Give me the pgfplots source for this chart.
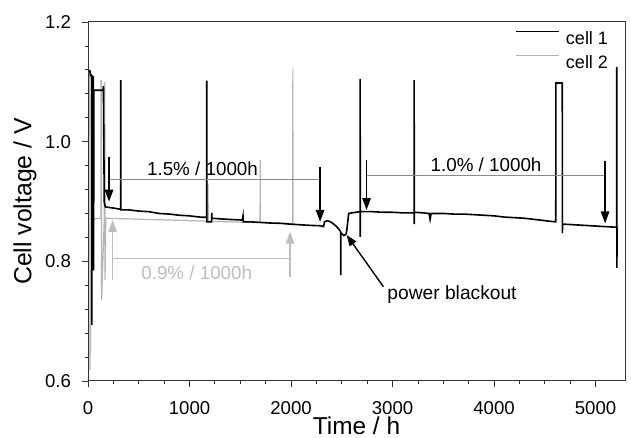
\documentclass[border=0pt]{standalone}
\usepackage{fontspec}
\setmainfont{Liberation Sans}
\usepackage{pgfplots}
\pgfplotsset{compat=1.18}
\usetikzlibrary{arrows.meta}

\definecolor{celltwo}{HTML}{B4B4B4}
\definecolor{refline}{HTML}{8A8A8A}
\definecolor{lightarr}{HTML}{BDBDBD}

\begin{document}
\begin{tikzpicture}
\begin{axis}[
    name=ax,
    scale only axis,
    width=268.5pt, height=179.5pt,
    xmin=0, xmax=5290,
    ymin=0.6, ymax=1.2,
    xtick={0,1000,2000,3000,4000,5000},
    ytick={0.6,0.8,1.0,1.2},
    yticklabels={0.6,0.8,1.0,1.2},
    minor x tick num=3,
    minor y tick num=4,
    tick align=outside,
    xtick pos=bottom, ytick pos=left,
    major tick length=2.8pt, minor tick length=1.6pt,
    axis line style={black!80, line width=0.5pt},
    every tick/.style={black!80, line width=0.4pt},
    /pgf/number format/assume math mode=true,
    scaled ticks=false,
    xticklabel style={font=\fontsize{9.3}{11}\selectfont, anchor=base, yshift=-14pt, inner sep=0pt},
    yticklabel style={font=\fontsize{9.3}{11}\selectfont, anchor=east, xshift=-5.5pt, inner sep=0pt},
    xticklabel={\pgfmathprintnumber[fixed,precision=0,1000 sep={}]{\tick}},
    xlabel={Time / h},
    ylabel={Cell voltage / V},
    every axis x label/.style={at={([yshift=-27pt]axis description cs:0.5,0)}, anchor=base, inner sep=0pt, font=\fontsize{12.2}{14}\selectfont},
    every axis y label/.style={at={([xshift=-31.5pt]axis description cs:0,0.5)}, rotate=90, anchor=center, inner sep=0pt, font=\fontsize{12.4}{14}\selectfont},
    legend style={draw=none, fill=none, font=\fontsize{9}{10}\selectfont,
        at={([xshift=-8.3pt,yshift=-4.1pt]rel axis cs:1,1)}, anchor=north east,
        row sep=5.5pt, column sep=3pt, inner sep=0pt,
        nodes={inner sep=0pt, text height=6.5pt, text depth=0pt}},
    legend cell align=left,
    legend image code/.code={\draw[#1] (0pt,3.25pt) -- (21.5pt,3.25pt);},
]

% cell 2 (grey)
\addplot[celltwo, line width=0.6pt, forget plot] coordinates {
(18,1.117)(19,0.618)(40,0.870)(100,0.872)(128,0.872)(129,1.102)(133,1.102)(134,0.735)
(160,0.870)(166,1.100)(168,0.769)(175,0.872)(250,0.8715)(400,0.871)(600,0.870)
(800,0.869)(1000,0.868)(1182,0.867)(1183,0.930)(1184,0.867)(1400,0.866)(1600,0.865)
(1695,0.865)(1696,0.969)(1697,0.865)(1800,0.864)(1957,0.8635)(2017,0.863)(2018,1.122)
(2019,0.863)(2040,0.863)
};

% cell 1 (black)
\addplot[black, line width=0.8pt, forget plot] coordinates {
(15,1.120)(20,1.117)(26,1.110)(36,1.110)(38,0.694)(40,1.110)(52,1.108)(55,0.785)
(58,1.086)(100,1.086)(150,1.086)(152,1.093)(160,0.900)(170,0.891)(250,0.889)
(322,0.887)(323,1.103)(324,0.886)(400,0.886)(500,0.884)(600,0.883)(700,0.880)
(800,0.879)(900,0.877)(1000,0.876)(1100,0.874)(1169,0.8735)(1170,1.102)(1171,0.866)
(1218,0.866)(1219,0.872)(1220,0.881)(1221,0.872)(1300,0.871)(1400,0.870)(1520,0.869)
(1527,0.876)(1530,0.866)(1600,0.866)(1700,0.865)(1800,0.864)(1900,0.8635)(2000,0.862)
(2100,0.861)(2200,0.860)(2286,0.8595)(2320,0.858)(2330,0.866)(2360,0.868)(2400,0.865)
(2450,0.858)(2489,0.850)(2490,0.777)(2491,0.848)(2520,0.843)(2540,0.845)(2550,0.852)
(2560,0.868)(2568,0.880)(2600,0.881)(2680,0.883)(2681,1.105)(2682,0.841)(2683,0.883)
(2800,0.883)(2900,0.882)(3000,0.882)(3100,0.881)(3212,0.881)(3213,1.103)(3214,0.862)
(3216,0.882)(3300,0.881)(3360,0.880)(3370,0.870)(3380,0.880)(3500,0.880)(3600,0.879)
(3700,0.879)(3800,0.878)(3900,0.877)(4000,0.876)(4100,0.874)(4200,0.873)(4300,0.872)
(4400,0.870)(4500,0.868)(4600,0.866)(4608,0.866)(4609,1.098)(4672,1.098)(4673,0.847)
(4675,0.862)(4700,0.862)(4800,0.861)(4900,0.860)(5000,0.859)(5100,0.858)(5200,0.857)
(5208,0.857)(5209,1.125)(5210,0.789)(5212,0.857)
};

\addlegendimage{black, line width=0.6pt}
\addlegendentry{cell 1}
\addlegendimage{celltwo, line width=0.6pt}
\addlegendentry{cell 2}

% degradation rate annotations
\draw[refline, line width=0.35pt] (axis cs:207,0.937) -- (axis cs:2286,0.937);
\draw[refline, line width=0.35pt] (axis cs:2744,0.9442) -- (axis cs:5094,0.9442);
\draw[lightarr, line width=0.35pt] (axis cs:246,0.805) -- (axis cs:1990,0.805);

\draw[black, line width=0.8pt, -{Triangle[width=4.2pt,length=6pt]}] (axis cs:207,0.975) -- (axis cs:207,0.8996);
\draw[black, line width=0.8pt, -{Triangle[width=4.2pt,length=6pt]}] (axis cs:2286,0.958) -- (axis cs:2286,0.866);
\draw[black, line width=0.8pt, -{Triangle[width=4.2pt,length=6pt]}] (axis cs:2744,0.970) -- (axis cs:2744,0.8857);
\draw[black, line width=0.8pt, -{Triangle[width=4.2pt,length=6pt]}] (axis cs:5094,0.968) -- (axis cs:5094,0.8635);
\draw[lightarr, line width=0.8pt, -{Triangle[width=4.2pt,length=6pt]}] (axis cs:243,0.769) -- (axis cs:243,0.869);
\draw[lightarr, line width=0.8pt, -{Triangle[width=4.2pt,length=6pt]}] (axis cs:1990,0.773) -- (axis cs:1990,0.8495);
\draw[black, line width=0.7pt, -{Triangle[width=4pt,length=5.5pt]}] (axis cs:2910,0.7576) -- (axis cs:2548,0.844);

\node[anchor=base, font=\fontsize{9.4}{11}\selectfont] at (axis cs:1128,0.9442) {1.5\% / 1000h};
\node[anchor=base, font=\fontsize{9.4}{11}\selectfont] at (axis cs:3921,0.9497) {1.0\% / 1000h};
\node[anchor=base, font=\fontsize{9.4}{11}\selectfont, text=lightarr] at (axis cs:1071,0.7688) {0.9\% / 1000h};
\node[anchor=base west, inner sep=0pt, font=\fontsize{9.6}{11}\selectfont] at (axis cs:2946,0.7365) {power blackout};

\end{axis}
\pgfresetboundingbox
\path ([shift={(-44pt,-28.5pt)}]ax.south west) rectangle ++(315.5pt,219pt);
\end{tikzpicture}
\end{document}
